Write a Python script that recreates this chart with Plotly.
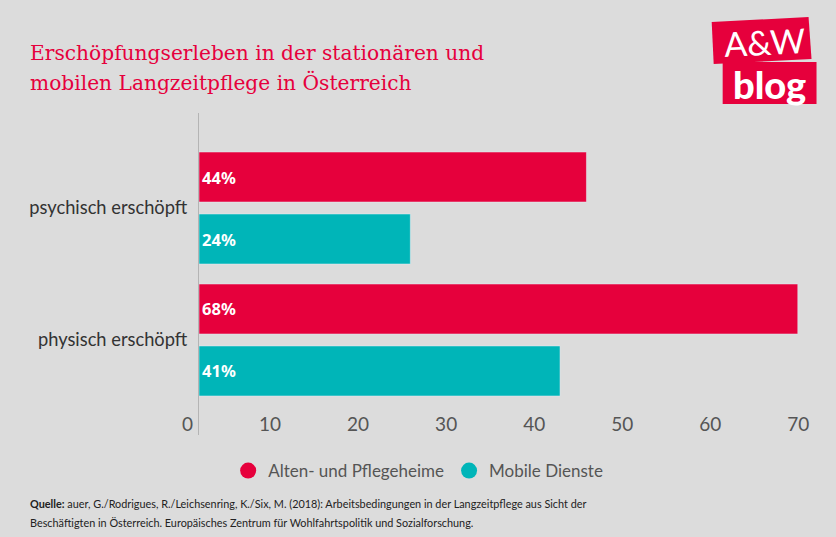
import plotly.graph_objects as go

categories = ["psychisch erschöpft", "physisch erschöpft"]
heime = [44, 68]
mobile = [24, 41]
x_ticks = [0, 10, 20, 30, 40, 50, 60, 70]

RED = "#E6003C"
TEAL = "#00B5B8"
W, H = 836, 537
# plot area in window pixels
L, R, T, B = 198.5, 833.5, 113, 435


def px(x):
    return (x - L) / (R - L)


def py(y):
    return (B - y) / (B - T)


def note(x, y, text, size, color, family, weight=400, **kw):
    return dict(x=px(x), y=py(y), xref="paper", yref="paper", text=text, showarrow=False,
                xanchor=kw.pop("xanchor", "left"), yanchor="middle",
                font=dict(size=size, color=color, family=family, weight=weight), **kw)


def poly(points):
    path = "M " + " L ".join(f"{px(a)},{py(b)}" for a, b in points) + " Z"
    return dict(type="path", path=path, xref="paper", yref="paper", fillcolor=RED, line_width=0)


fig = go.Figure()
for values, color in [(heime, RED), (mobile, TEAL)]:
    fig.add_trace(go.Bar(y=categories, x=values, orientation="h", marker_color=color, showlegend=False,
                         texttemplate="%{x}%", textposition="inside", insidetextanchor="start",
                         textangle=0,
                         textfont=dict(color="white", size=16.5, family="Noto Sans", weight=700)))
# circles for the legend
fig.add_trace(go.Scatter(x=[None], y=[None], mode="markers", name="Alten- und Pflegeheime",
                         marker=dict(color=RED, size=16)))
fig.add_trace(go.Scatter(x=[None], y=[None], mode="markers", name="Mobile Dienste",
                         marker=dict(color=TEAL, size=16)))

fig.update_layout(
    width=W, height=H,
    margin=dict(l=L, r=W - R, t=T, b=H - B, autoexpand=False),
    paper_bgcolor="#DCDCDC", plot_bgcolor="#DCDCDC",
    barmode="group", bargap=0.0606, bargroupgap=0.1935,
    legend=dict(orientation="h", x=px(418), xanchor="center", y=py(471), yanchor="middle",
                font=dict(size=17, color="#555555", family="Lato"), bgcolor="rgba(0,0,0,0)"),
    shapes=[
        poly([(712, 22), (809, 17), (812, 59), (714, 64)]),
        poly([(723, 62), (817, 62), (817, 104), (723, 104)]),
    ],
    annotations=[
        note(27, 53, "Erschöpfungserleben in der stationären und", 20.2, RED, "DejaVu Serif"),
        note(27, 82, "mobilen Langzeitpflege in Österreich", 20.2, RED, "DejaVu Serif"),
        note(765, 42, "A&W", 34, "white", "Lato", xanchor="center", textangle=-3),
        note(770, 84, "blog", 38, "white", "Lato", weight=900, xanchor="center"),
        note(27, 504, "<b>Quelle:</b> auer, G./Rodrigues, R./Leichsenring, K./Six, M. (2018): "
                      "Arbeitsbedingungen in der Langzeitpflege aus Sicht der",
             10.85, "#222222", "Lato"),
        note(27, 522, "Beschäftigten in Österreich. Europäisches Zentrum für "
                      "Wohlfahrtspolitik und Sozialforschung.",
             10.85, "#222222", "Lato"),
    ],
)
# tick labels sit left of their tick and up inside the plot, as in the original
fig.update_xaxes(range=[0, 72], tickvals=x_ticks, showgrid=False, zeroline=False, showline=False,
                 ticks="", ticklabelposition="outside left", ticklabelstandoff=-24, ticklabelshift=-6,
                 tickfont=dict(size=19, color="#555555", family="Lato"))
fig.update_yaxes(autorange=False, range=[1.72, -0.72], showgrid=False, zeroline=False,
                 showline=True, linecolor="#B4B4B4", linewidth=1, ticks="", ticklabelstandoff=7,
                 tickfont=dict(size=18.3, color="#333333", family="Lato"))

# the page would otherwise keep its default 8px body margin
fig.write_html("out.html", config=dict(displayModeBar=False),
               post_script="document.body.style.margin='0';")
